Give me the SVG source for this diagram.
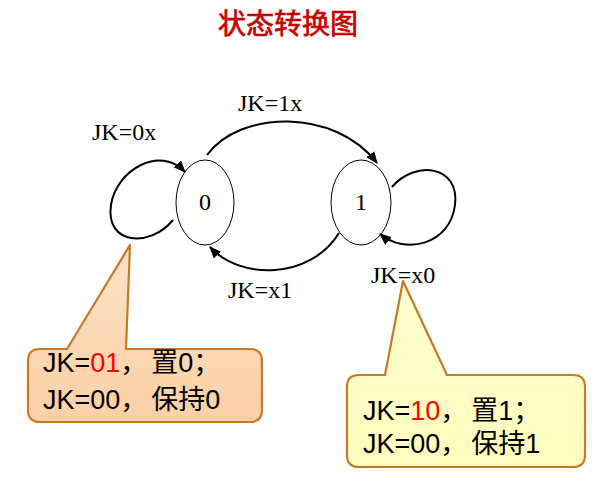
<svg xmlns="http://www.w3.org/2000/svg" width="606" height="485" viewBox="0 0 606 485">
<style>
.t{font-family:"Liberation Serif","Times New Roman",serif;font-size:24px;fill:#000}
.c{font-family:"Liberation Sans","Noto Sans CJK SC",sans-serif;font-size:27px;fill:#000}
.r{fill:#ff0000}
.st{fill:none;stroke:#000;stroke-width:1}
.ed{fill:none;stroke:#000;stroke-width:2}
.co{stroke:#c67a26;stroke-width:2.2;stroke-linejoin:round}
</style>
<defs>
<marker id="ah" viewBox="0 0 12 10" refX="11" refY="5" markerWidth="12" markerHeight="10" markerUnits="userSpaceOnUse" orient="auto">
<path d="M0,0 L12,5 L0,10 Z" fill="#000"/>
</marker>
<linearGradient id="go" x1="0" y1="0" x2="0" y2="1">
<stop offset="0" stop-color="#fde2c6"/>
<stop offset="1" stop-color="#fbd0a6"/>
</linearGradient>
<linearGradient id="gy" x1="0" y1="0" x2="0" y2="1">
<stop offset="0" stop-color="#ffffd2"/>
<stop offset="1" stop-color="#fffcbc"/>
</linearGradient>
</defs>
<rect width="606" height="485" fill="#fff"/>
<text x="288" y="34" text-anchor="middle" style="font-family:'Noto Sans CJK SC',sans-serif;font-size:28px;font-weight:normal;fill:#c80000;stroke:#c80000;stroke-width:0.7">状态转换图</text>

<g id="state0">
<ellipse cx="205" cy="202.5" rx="29" ry="42.5" class="st"/>
<text x="205" y="210" text-anchor="middle" class="t">0</text>
</g>
<g id="state1">
<ellipse cx="361" cy="202.5" rx="30" ry="42.5" class="st"/>
<text x="361" y="210" text-anchor="middle" class="t">1</text>
</g>

<g id="connectors">
<path d="M207,155 C240,110 335,108 377,163" class="ed" marker-end="url(#ah)"/>
<path d="M339,233 C310,280 240,280 210,247" class="ed" marker-end="url(#ah)"/>
<path d="M173,220 C150,248 105,245 111,205 C116,170 160,145 185,172" class="ed" marker-end="url(#ah)"/>
<path d="M392,187 C415,160 460,165 455,205 C450,245 405,255 380,234" class="ed" marker-end="url(#ah)"/>
</g>

<g id="labels">
<text x="238" y="111" class="t">JK=1x</text>
<text x="92" y="140" class="t">JK=0x</text>
<text x="228" y="298" class="t">JK=x1</text>
<text x="371" y="283" class="t">JK=x0</text>
</g>

<g id="callout0">
<path d="M40,349 L67,349 L130,245 L126,349 L250,349 Q262,349 262,361 L262,410 Q262,422 250,422 L40,422 Q28,422 28,410 L28,361 Q28,349 40,349 Z" fill="url(#go)" class="co"/>
<text x="43" y="372" class="c">JK=<tspan class="r">01</tspan>，<tspan dx="4">置0；</tspan></text>
<text x="43" y="409" class="c">JK=00，<tspan dx="4">保持0</tspan></text>
</g>

<g id="callout1">
<path d="M359,375 L385,375 L403,281 L447,375 L573,375 Q585,375 585,387 L585,455 Q585,467 573,467 L359,467 Q347,467 347,455 L347,387 Q347,375 359,375 Z" fill="url(#gy)" class="co"/>
<text x="363" y="420" class="c">JK=<tspan class="r">10</tspan>，<tspan dx="4">置1；</tspan></text>
<text x="363" y="453" class="c">JK=00，<tspan dx="4">保持1</tspan></text>
</g>
</svg>
